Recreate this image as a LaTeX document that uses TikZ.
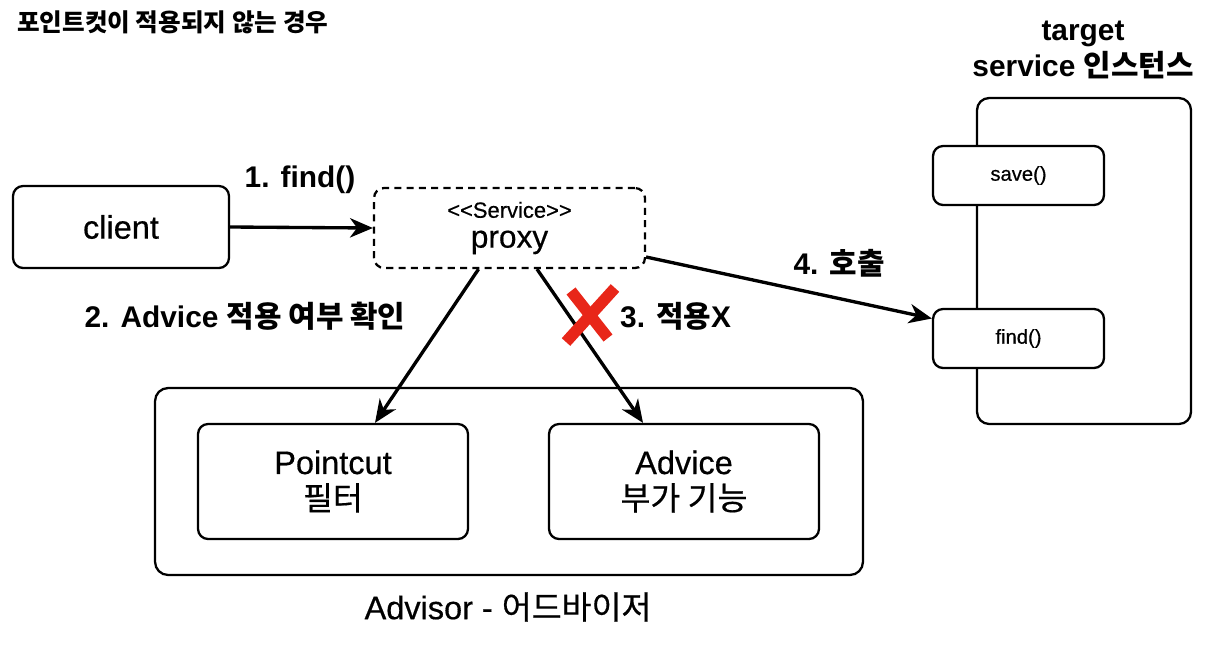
\documentclass[tikz,border=0pt]{standalone}
\usepackage{fontspec}
\setmainfont{Liberation Sans}[UprightFeatures={FakeBold=0.5}]
\newfontfamily\ko{Noto Sans CJK KR}[UprightFeatures={FakeBold=0.5}]
\usepackage{tikz}
\usetikzlibrary{arrows.meta}
\usetikzlibrary{calc}
\tikzstyle{line} = [draw, line width=1.9pt, -{Stealth[length=13pt, width=11pt, inset=4pt]}]
\definecolor{xred}{rgb}{0.91,0.15,0.10}

\begin{document}
\begin{tikzpicture}[x=0.02cm, y=-0.02cm,
				box/.style = {draw, line width=1.3pt, rounded corners=0.2cm,
					fill=white, align=center, inner sep=0pt},
				lbl/.style = {font=\fontsize{17}{20}\selectfont\bfseries},
				big/.style = {font=\fontsize{18.5}{20.5}\selectfont},
				small/.style = {font=\fontsize{11.5}{14}\selectfont}]
				
				\useasboundingbox (0,0) rectangle (1226,646);
				
				% Title
				\node[anchor=west, font=\fontsize{14}{16}\selectfont\bfseries\ko] (title) at (11,22) {포인트컷이 적용되지 않는 경우};
				
				% Client
				\node[box, big, minimum width=4.32cm, minimum height=1.64cm] (client) at (121,227) {client};
				
				% Proxy
				\node[box, dashed, dash pattern=on 4pt off 3pt, minimum width=5.42cm, minimum height=1.6cm] (proxy) at (509.5,228)
					{{\fontsize{12.5}{14}\selectfont <{}<Service>{}>}\\[5pt]{\fontsize{18}{20}\selectfont proxy}};
				
				% Target instance
				\node[box, rounded corners=0.24cm, minimum width=4.28cm, minimum height=6.52cm] (target) at (1084,261) {};
				\node[small, box, minimum width=3.42cm, minimum height=1.18cm] (save) at (1018.5,175.5) {save()};
				\node[small, box, minimum width=3.42cm, minimum height=1.18cm] (find) at (1018.5,338.5) {find()};
				\node[align=center, font=\fontsize{17}{20.5}\selectfont\bfseries] (tlabel) at (1083,50) {target\\service {\ko 인스턴스}};
				
				% Advisor
				\node[box, rounded corners=0.26cm, minimum width=14.16cm, minimum height=3.74cm] (advisor) at (509,481.5) {};
				\node[box, big, minimum width=5.4cm, minimum height=2.3cm] (pointcut) at (333,481.5) {Pointcut\\{\ko 필터}};
				\node[box, big, minimum width=5.4cm, minimum height=2.3cm] (advice) at (684,481.5) {Advice\\{\ko 부가 기능}};
				\node[big] (alabel) at (508,607) {Advisor - {\ko 어드바이저}};
				
				% Calls
				\path[line] (client.east) -- (proxy.west);
				\path[line] ([xshift=-0.62cm]proxy.south) -- ([xshift=0.84cm]pointcut.north);
				\path[line] ([xshift=0.55cm]proxy.south) -- ([xshift=-0.82cm]advice.north);
				\path[line] ([yshift=-0.58cm]proxy.east) -- ([yshift=0.4cm]find.west);
				
				\node[lbl] (l1) at (300,180) {1. find()};
				\node[lbl] (l2) at (245,316) {2. Advice {\ko 적용 여부 확인}};
				\node[lbl, anchor=west] (l3) at (614,316) {3. {\ko 적용}X};
				\node[lbl] (l4) at (839,263) {4. {\ko 호출}};
				
				% Red cross
				\draw[xred, line width=6.5pt] (566,342) -- (615,288);
				\draw[xred, line width=6.5pt] (571,291) -- (608,338);
				
		\end{tikzpicture}
\end{document}
